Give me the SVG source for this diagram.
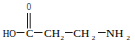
<svg xmlns="http://www.w3.org/2000/svg" width="135" height="48" viewBox="0 0 135 48">
<style>
text{font-family:"Liberation Serif","Times New Roman",serif;font-size:11px;fill:#000}
.s{font-size:7px}
line{stroke:#000;stroke-width:0.9}
</style>
<rect width="135" height="48" fill="#fff"/>
<g id="connectors">
<line x1="16.5" y1="32.5" x2="24.5" y2="32.5"/>
<line x1="34" y1="32.5" x2="42.5" y2="32.5"/>
<line x1="65" y1="32.5" x2="72.7" y2="32.5"/>
<line x1="98" y1="32.5" x2="105.7" y2="32.5"/>
<line x1="27.5" y1="13" x2="27.5" y2="28.5"/>
<line x1="30.2" y1="13" x2="30.2" y2="28.5"/>
</g>
<g id="HO"><text x="2.7" y="36.5" textLength="13.3" lengthAdjust="spacingAndGlyphs">HO</text></g>
<g id="C"><text x="26" y="36.5" textLength="7.3" lengthAdjust="spacingAndGlyphs">C</text></g>
<g id="O"><text x="26.7" y="10" textLength="4.3" lengthAdjust="spacingAndGlyphs">O</text></g>
<g id="CH2a"><text x="44" y="36.5" textLength="16" lengthAdjust="spacingAndGlyphs">CH</text><text class="s" x="60.5" y="39.5">2</text></g>
<g id="CH2b"><text x="73.3" y="36.5" textLength="16" lengthAdjust="spacingAndGlyphs">CH</text><text class="s" x="91.8" y="39.5">2</text></g>
<g id="NH2"><text x="106" y="36.5" textLength="17.3" lengthAdjust="spacingAndGlyphs">NH</text><text class="s" x="126.5" y="39.5">2</text></g>
</svg>
